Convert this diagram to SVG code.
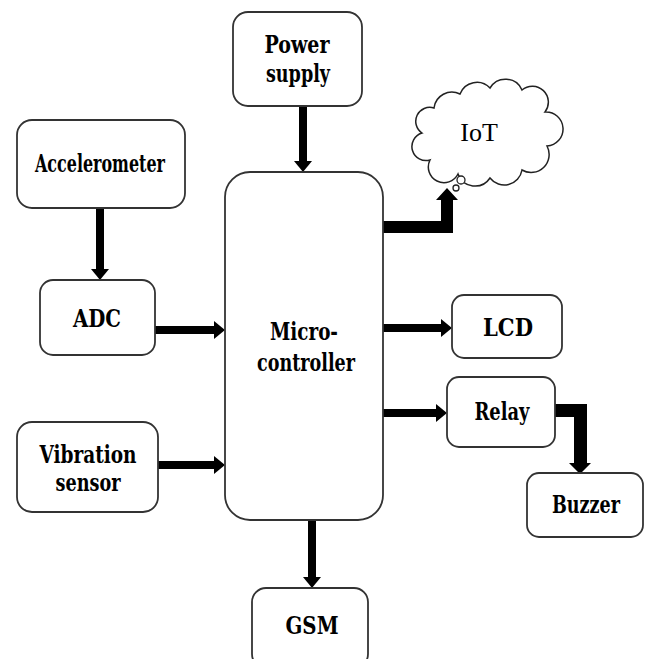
<svg xmlns="http://www.w3.org/2000/svg" width="646" height="659" viewBox="0 0 646 659">
<style>
.box{fill:#fff;stroke:#333;stroke-width:1.8}
.lbl{font-family:"DejaVu Serif","Liberation Serif",serif;font-weight:bold;font-size:24px;fill:#000;text-anchor:middle}
.cloudtxt{font-family:"Liberation Serif","Times New Roman",serif;font-size:26px;fill:#000;text-anchor:middle}
.ar{stroke:#000;stroke-width:8;fill:none}
</style>
<defs>
<marker id="ah" viewBox="0 0 11 18" refX="0" refY="9" markerUnits="userSpaceOnUse" markerWidth="11" markerHeight="18" orient="auto">
<path d="M0 0 L11 9 L0 18 Z" fill="#000"/>
</marker>
</defs>
<rect width="646" height="659" fill="#fff"/>
<g id="connectors">
<line class="ar" x1="303" y1="106" x2="303" y2="161" marker-end="url(#ah)"/>
<line class="ar" x1="100" y1="208" x2="100" y2="269" marker-end="url(#ah)"/>
<line class="ar" x1="155" y1="330" x2="214" y2="330" marker-end="url(#ah)"/>
<line class="ar" x1="158" y1="465" x2="214" y2="465" marker-end="url(#ah)"/>
<line class="ar" x1="383" y1="328" x2="441" y2="328" marker-end="url(#ah)"/>
<line class="ar" x1="383" y1="413" x2="436" y2="413" marker-end="url(#ah)"/>
<line class="ar" x1="312" y1="520" x2="312" y2="577" marker-end="url(#ah)"/>
<path d="M383 221 H441 V200 H436 L447 188 L458 200 H453 V233 H383 Z" fill="#000"/>
<path d="M555 404 H587 V463 H591 L580 474 L569 463 H574 V417 H555 Z" fill="#000"/>
</g>
<g id="power">
<rect class="box" x="233" y="12" width="129" height="94" rx="15"/>
<text class="lbl" x="297" y="53" textLength="65" lengthAdjust="spacingAndGlyphs">Power</text>
<text class="lbl" x="298" y="82" textLength="64" lengthAdjust="spacingAndGlyphs">supply</text>
</g>
<g id="accelerometer">
<rect class="box" x="17" y="120" width="168" height="88" rx="15"/>
<text class="lbl" x="100" y="172" textLength="130" lengthAdjust="spacingAndGlyphs">Accelerometer</text>
</g>
<g id="adc">
<rect class="box" x="40" y="280" width="115" height="75" rx="13"/>
<text class="lbl" x="97" y="327" textLength="48" lengthAdjust="spacingAndGlyphs">ADC</text>
</g>
<g id="vibration">
<rect class="box" x="17" y="422" width="141" height="90" rx="15"/>
<text class="lbl" x="88" y="463" textLength="97" lengthAdjust="spacingAndGlyphs">Vibration</text>
<text class="lbl" x="88" y="491" textLength="65" lengthAdjust="spacingAndGlyphs">sensor</text>
</g>
<g id="microcontroller">
<rect class="box" x="225" y="172" width="158" height="348" rx="25"/>
<text class="lbl" x="304" y="340" textLength="68" lengthAdjust="spacingAndGlyphs">Micro-</text>
<text class="lbl" x="306" y="371" textLength="98" lengthAdjust="spacingAndGlyphs">controller</text>
</g>
<g id="iot">
<path d="M430 160 A14 14 0 0 1 422 133 A14 14 0 0 1 434 108 A18 18 0 0 1 460 94 A18 18 0 0 1 490 88 A18 18 0 0 1 522 90 A16 16 0 0 1 545 112 A16 16 0 0 1 547 146 A18 18 0 0 1 522 170 A18 18 0 0 1 490 178 A18 18 0 0 1 458 174 A14 14 0 0 1 430 160 Z" fill="#fff" stroke="#222" stroke-width="1.5"/>
<circle cx="461" cy="180" r="4" fill="#fff" stroke="#222" stroke-width="1.3"/>
<circle cx="456" cy="188" r="3" fill="#fff" stroke="#222" stroke-width="1.3"/>
<text class="cloudtxt" x="479" y="141">IoT</text>
</g>
<g id="lcd">
<rect class="box" x="452" y="295" width="110" height="63" rx="12"/>
<text class="lbl" x="508" y="336" textLength="50" lengthAdjust="spacingAndGlyphs">LCD</text>
</g>
<g id="relay">
<rect class="box" x="447" y="377" width="108" height="70" rx="12"/>
<text class="lbl" x="502" y="420" textLength="55" lengthAdjust="spacingAndGlyphs">Relay</text>
</g>
<g id="buzzer">
<rect class="box" x="527" y="473" width="116" height="64" rx="12"/>
<text class="lbl" x="586" y="513" textLength="68" lengthAdjust="spacingAndGlyphs">Buzzer</text>
</g>
<g id="gsm">
<rect class="box" x="252" y="588" width="116" height="80" rx="14"/>
<text class="lbl" x="312" y="634" textLength="53" lengthAdjust="spacingAndGlyphs">GSM</text>
</g>
</svg>
